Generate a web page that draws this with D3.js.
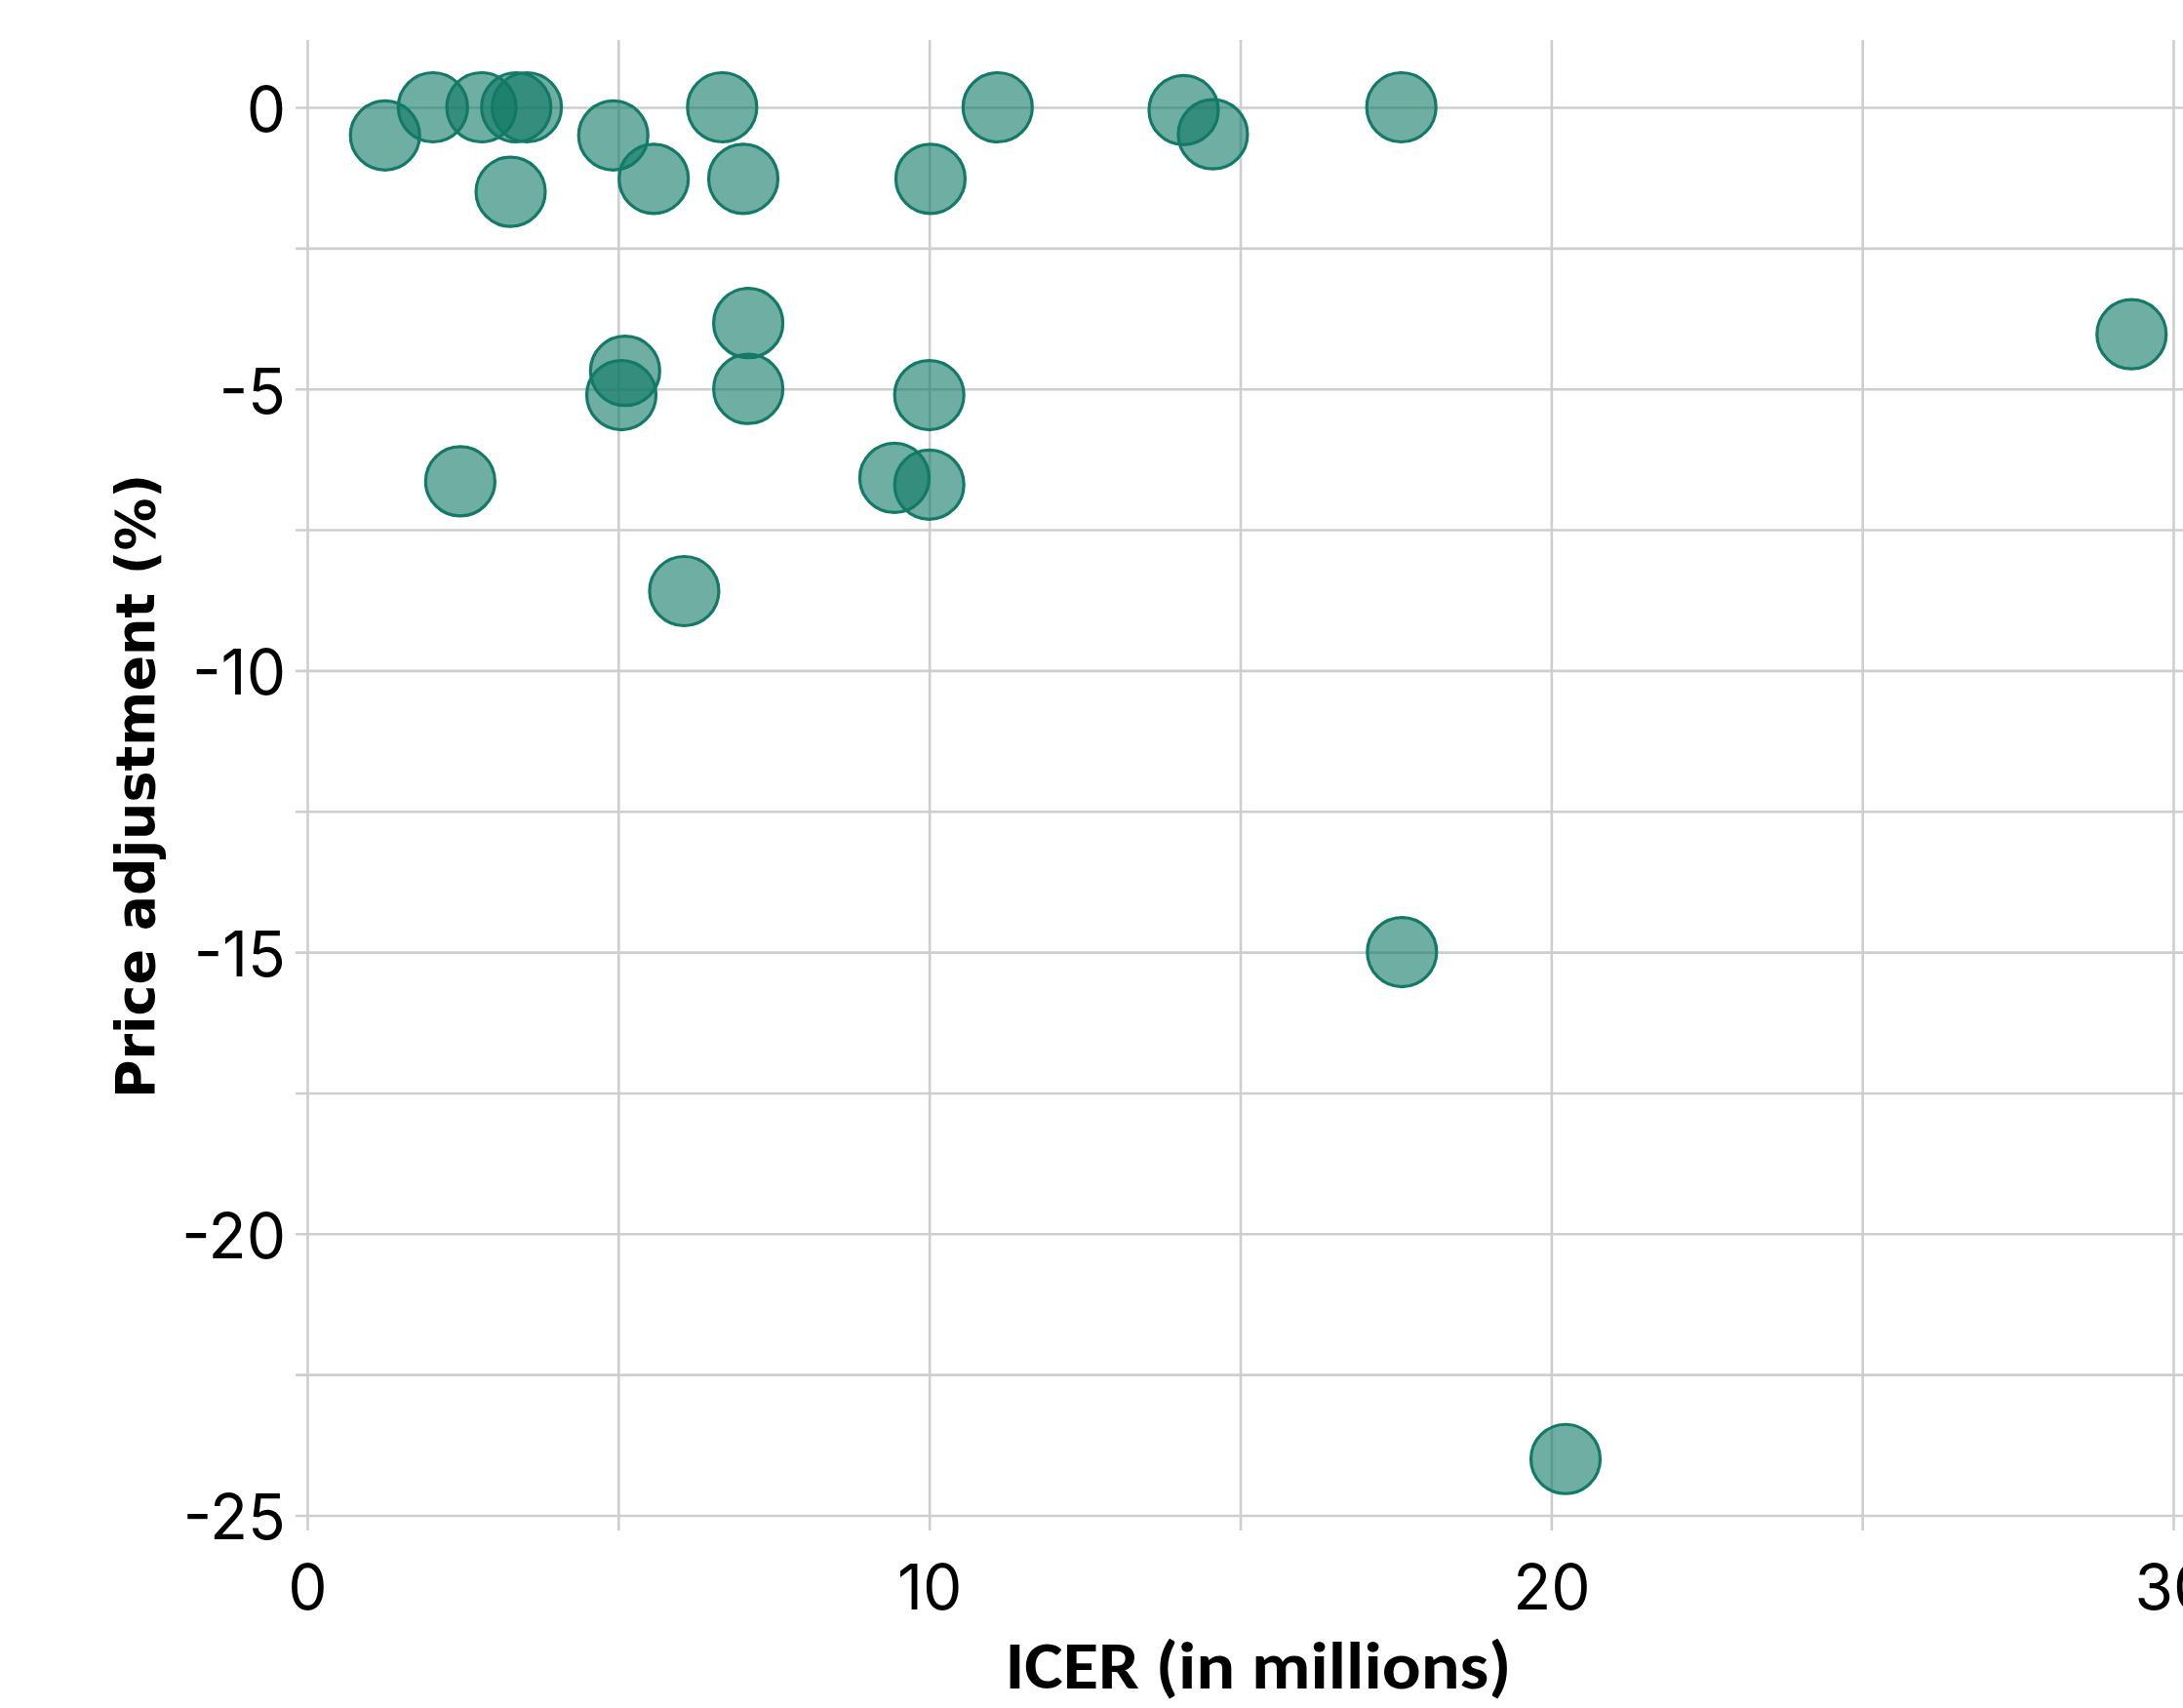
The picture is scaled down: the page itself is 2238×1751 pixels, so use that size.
<!DOCTYPE html>
<html>
<head>
<meta charset="utf-8">
<script src="https://cdn.jsdelivr.net/npm/d3@7"></script>
<style>
  html, body { margin: 0; padding: 0; background: #ffffff; }
  svg { display: block; }
</style>
</head>
<body>
<svg id="chart" width="2238" height="1751"></svg>
<script>
// ICER (in millions) for each point
const icer = [1.25, 2.02, 2.80, 3.36, 3.53, 3.27, 4.92, 5.57, 6.67, 7.01, 10.02, 11.1,
              14.09, 14.56, 17.59, 29.33, 7.09, 7.09, 5.11, 5.05, 10.0, 2.46, 9.44, 10.0,
              6.06, 17.6, 20.23];
// Price adjustment (%) for each point
const priceAdj = [-0.5, 0, 0, 0, 0, -1.5, -0.5, -1.27, 0, -1.27, -1.27, 0,
                  -0.05, -0.48, 0, -4.03, -3.83, -5.0, -4.68, -5.11, -5.11, -6.64, -6.58, -6.7,
                  -8.59, -15.0, -24.0];
const xTicks = [0, 5, 10, 15, 20, 25, 30];
const xLabels = ["0", "", "10", "", "20", "", "30"];
const yTicks = [0, -2.5, -5, -7.5, -10, -12.5, -15, -17.5, -20, -22.5, -25];
const yLabels = ["0", "", "-5", "", "-10", "", "-15", "", "-20", "", "-25"];
const xTitle = "ICER (in millions)";
const yTitle = "Price adjustment (%)";

const W = 2238, H = 1751;
const svg = d3.select("#chart");
svg.append("rect").attr("width", W).attr("height", H).attr("fill", "#fff");

const x = d3.scaleLinear().domain([0, 30]).range([315, 2228]);
const y = d3.scaleLinear().domain([-25, 0]).range([1553.5, 110]);

const plotTop = 41, tickLeft = 303, tickBottom = 1569;
const gridColor = "#cecece";
const tickFont = "Inter, 'Liberation Sans', Arial, sans-serif";

// Horizontal grid + y axis labels
const yAxis = d3.axisLeft(y)
  .tickValues(yTicks)
  .tickFormat((d, i) => yLabels[i])
  .tickSizeInner(-(W - tickLeft + 20))
  .tickSizeOuter(0)
  .tickPadding(10);
const gy = svg.append("g").attr("transform", `translate(${tickLeft},0)`).call(yAxis);
gy.select(".domain").remove();
gy.selectAll(".tick line").attr("stroke", gridColor).attr("stroke-width", 2.6);
gy.selectAll(".tick text")
  .attr("fill", "#000")
  .attr("font-family", tickFont)
  .attr("font-size", 64)
  .attr("dy", "0.38em");

// Vertical grid + x axis labels
const xAxis = d3.axisBottom(x)
  .tickValues(xTicks)
  .tickFormat((d, i) => xLabels[i])
  .tickSizeInner(tickBottom - plotTop)
  .tickSizeOuter(0)
  .tickPadding(36);
const gx = svg.append("g").attr("transform", `translate(0,${plotTop})`).call(xAxis);
gx.select(".domain").remove();
gx.selectAll(".tick line").attr("stroke", gridColor).attr("stroke-width", 2.6);
gx.selectAll(".tick text")
  .attr("fill", "#000")
  .attr("font-family", tickFont)
  .attr("font-size", 64);

// Points
const pts = icer.map((v, i) => ({ x: v, y: priceAdj[i] }));
svg.append("g").selectAll("circle")
  .data(pts)
  .join("circle")
  .attr("cx", d => x(d.x))
  .attr("cy", d => y(d.y))
  .attr("r", 35.5)
  .attr("fill", "rgb(15,120,100)")
  .attr("fill-opacity", 0.6)
  .attr("stroke", "#147a68")
  .attr("stroke-width", 3.2);

// Axis titles
svg.append("text")
  .attr("x", 1290)
  .attr("y", 1731)
  .attr("text-anchor", "middle")
  .attr("font-family", "Carlito, Calibri, Lato, 'Open Sans', sans-serif")
  .attr("font-weight", "bold")
  .attr("font-size", 68)
  .attr("textLength", 519)
  .attr("lengthAdjust", "spacingAndGlyphs")
  .attr("fill", "#000")
  .text(xTitle);

svg.append("text")
  .attr("transform", "translate(158,806) rotate(-90)")
  .attr("text-anchor", "middle")
  .attr("font-family", "'DejaVu Sans', Verdana, sans-serif")
  .attr("font-weight", "bold")
  .attr("font-size", 56)
  .attr("textLength", 640)
  .attr("lengthAdjust", "spacingAndGlyphs")
  .attr("fill", "#000")
  .text(yTitle);
</script>
</body>
</html>
